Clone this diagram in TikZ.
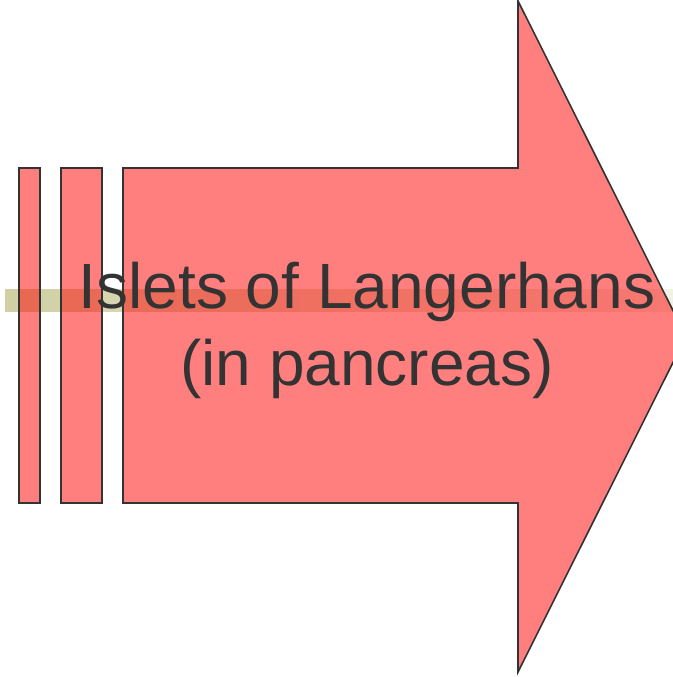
\documentclass[tikz,border=0pt]{standalone}
\usepackage{fontspec}
\setmainfont{Liberation Sans}
\definecolor{olivebar}{RGB}{208,208,164}
\definecolor{olivefade}{RGB}{242,242,232}
\definecolor{inkgray}{RGB}{51,51,51}
\tikzset{
  stripe/.style={fill=red, fill opacity=0.5, draw=inkgray, line width=1.6bp, line join=miter},
  label/.style={text=inkgray, font=\fontsize{64bp}{77bp}\selectfont, inner sep=0pt},
}
\begin{document}
\begin{tikzpicture}[x=1bp, y=-1bp]
\useasboundingbox (0,0) rectangle (673,677);
\clip (0,0) rectangle (673,677);
\shade[left color=olivebar, right color=olivefade] (5,289) rectangle (690,311);
\draw[stripe] (19,168) rectangle (40,503);
\draw[stripe] (61,168) rectangle (102,503);
\draw[stripe] (123,168) -- (518,168) -- (518,1) -- (686,336.5) -- (518,672) -- (518,503) -- (123,503) -- cycle;
\node[label, anchor=base] (l1) at (367,308) {Islets of Langerhans};
\node[label, anchor=base] (l2) at (367,385) {(in pancreas)};
\end{tikzpicture}
\end{document}
